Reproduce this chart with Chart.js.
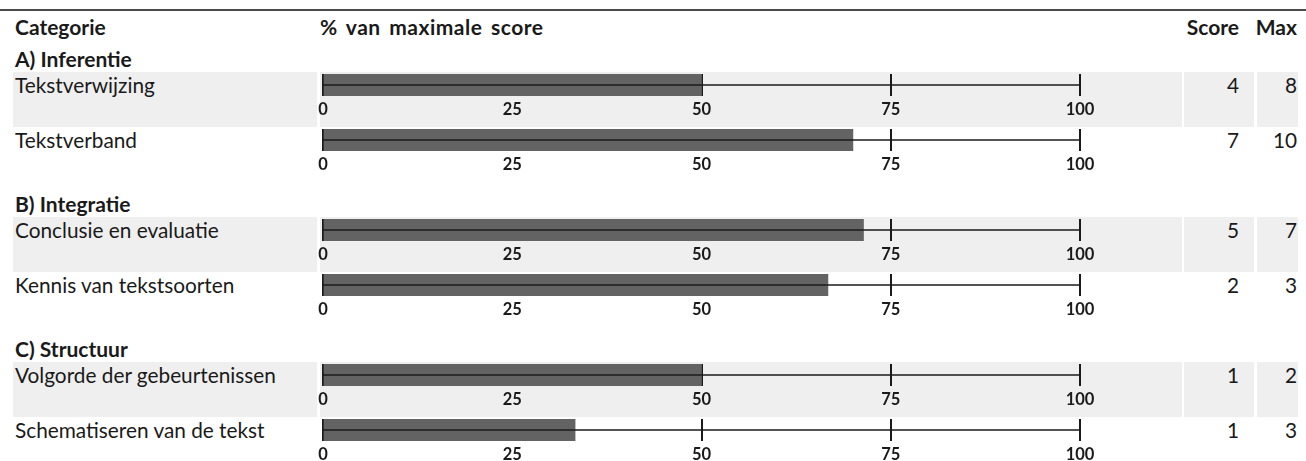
<!DOCTYPE html>
<html>
<head>
<meta charset="utf-8">
<script src="https://cdn.jsdelivr.net/npm/chart.js@4.4.1/dist/chart.umd.min.js"></script>
<style>
	html, body { margin: 0; padding: 0; background: #fff; }
	body { width: 1306px; height: 461px; position: relative; overflow: hidden; font-family: Lato, sans-serif; color: #1a1a1a; }
	.topline { position: absolute; left: 0; top: 9px; width: 1306px; height: 2px; background: #4a4a4a; }
	.txt { position: absolute; font-size: 20.8px; line-height: 24px; white-space: nowrap; }
	.bold { font-weight: bold; font-size: 21px; }
	.wide { letter-spacing: 0.5px; word-spacing: 3px; }
	.right { text-align: right; }
	.band { position: absolute; height: 55px; background: #efefef; }
	canvas.charts { position: absolute; }
</style>
</head>
<body>
<div class="topline"></div>
<script>
const groups = ['A) Inferentie', 'B) Integratie', 'C) Structuur'];
const categories = [
	'Tekstverwijzing', 'Tekstverband',
	'Conclusie en evaluatie', 'Kennis van tekstsoorten',
	'Volgorde der gebeurtenissen', 'Schematiseren van de tekst'
];
const categoryGroup = [0, 0, 1, 1, 2, 2];
const scores = [4, 7, 5, 2, 1, 1];
const maxScores = [8, 10, 7, 3, 2, 3];
const percentages = [50, 70, 71.4, 66.7, 50, 33.3];
const tickValues = [0, 25, 50, 75, 100];

const headers = { category: 'Categorie', percent: '% van maximale score', score: 'Score', max: 'Max' };

// layout
const ROW_H = 55;
const AXIS_LEFT = 323, AXIS_RIGHT = 1080, PAD = 22;
const groupBandTops = [72, 217, 362];

function addText (text, x, y, cls, width) {
	const el = document.createElement('div');
	el.className = 'txt ' + (cls || '');
	el.textContent = text;
	el.style.top = y + 'px';
	if (cls && cls.includes('right')) {
		el.style.left = (x - width) + 'px';
		el.style.width = width + 'px';
	} else {
		el.style.left = x + 'px';
	}
	document.body.appendChild(el);
}

function addBand (x, y, w) {
	const el = document.createElement('div');
	el.className = 'band';
	el.style.left = x + 'px';
	el.style.top = y + 'px';
	el.style.width = w + 'px';
	document.body.appendChild(el);
}

const midLine = {
	id: 'midLine',
	afterDatasetsDraw (chart) {
		const { ctx, chartArea, scales } = chart;
		const y = (chartArea.top + chartArea.bottom) / 2;
		ctx.save();
		ctx.strokeStyle = '#1a1a1a';
		ctx.lineWidth = 1.6;
		ctx.beginPath();
		ctx.moveTo(scales.x.getPixelForValue(tickValues[0]), y);
		ctx.lineTo(scales.x.getPixelForValue(tickValues[tickValues.length - 1]), y);
		ctx.stroke();
		ctx.restore();
	}
};

function chartConfig (value) {
	return {
		type: 'bar',
		data: {
			labels: [''],
			datasets: [{
				data: [value],
				backgroundColor: '#636363',
				borderWidth: 0,
				barPercentage: 1,
				categoryPercentage: 1
			}]
		},
		options: {
			indexAxis: 'y',
			responsive: false,
			animation: false,
			devicePixelRatio: 1,
			layout: { padding: { left: PAD, right: PAD, top: 2, bottom: 0 } },
			plugins: { legend: { display: false }, tooltip: { enabled: false } },
			scales: {
				y: { display: false },
				x: {
					min: tickValues[0],
					max: tickValues[tickValues.length - 1],
					z: 1,
					afterBuildTicks: axis => { axis.ticks = tickValues.map(v => ({ value: v })); },
					grid: { color: '#1a1a1a', lineWidth: 2, drawTicks: false, drawOnChartArea: true },
					border: { display: false },
					ticks: { padding: 4, color: '#1a1a1a', font: { family: 'Lato', size: 16.5, weight: 'bold' }, maxRotation: 0 }
				}
			}
		},
		plugins: [midLine]
	};
}

function createCharts () {
	addText(headers.category, 15, 15, 'bold');
	addText(headers.percent, 320, 15, 'bold wide');
	addText(headers.score, 1239, 15, 'bold right', 80);
	addText(headers.max, 1297, 15, 'bold right', 50);

	groups.forEach((g, i) => addText(g, 15, groupBandTops[i] - 25, 'bold'));

	categories.forEach((cat, i) => {
		const g = categoryGroup[i];
		const first = categoryGroup.indexOf(g) === i;
		const top = groupBandTops[g] + (first ? 0 : ROW_H);

		if (first) {
			addBand(13, top, 304);
			addBand(320, top, 862);
			addBand(1184, top, 70);
			addBand(1257, top, 41);
		}

		addText(cat, 15, top + 1);
		addText(String(scores[i]), 1239, top + 1, 'right', 60);
		addText(String(maxScores[i]), 1297, top + 1, 'right', 40);

		const canvas = document.createElement('canvas');
		canvas.className = 'charts';
		canvas.width = AXIS_RIGHT - AXIS_LEFT + 2 * PAD;
		canvas.height = 46;
		canvas.style.left = (AXIS_LEFT - PAD) + 'px';
		canvas.style.top = top + 'px';
		document.body.appendChild(canvas);

		window[`row-${i}`] = new Chart(canvas, chartConfig(percentages[i]));
	});
}

createCharts();
</script>
</body>
</html>
